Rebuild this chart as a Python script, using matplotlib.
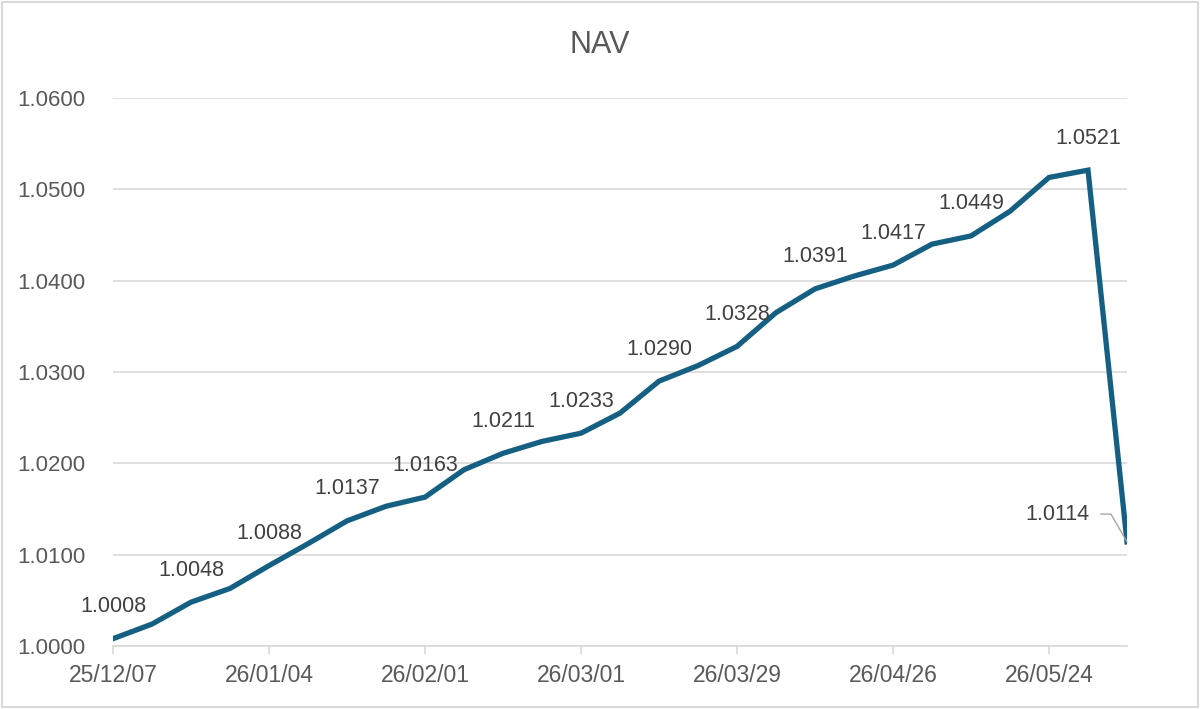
import numpy as np
import pandas as pd
import matplotlib
matplotlib.use("Agg")
import matplotlib.pyplot as plt
from matplotlib.patches import Rectangle

######################################################################
# Data (weekly NAV)

dates = pd.date_range("2025-12-07", periods=27, freq="7D")
nav = [1.0008, 1.0024, 1.0048, 1.0063, 1.0088, 1.0112, 1.0137, 1.0153,
       1.0163, 1.0193, 1.0211, 1.0224, 1.0233, 1.0255, 1.0290, 1.0307,
       1.0328, 1.0365, 1.0391, 1.0405, 1.0417, 1.0440, 1.0449, 1.0476,
       1.0513, 1.0521, 1.0114]
labelled = [0, 2, 4, 6, 8, 10, 12, 14, 16, 18, 20, 22, 25]
yticks = [1.0000, 1.0100, 1.0200, 1.0300, 1.0400, 1.0500, 1.0600]

xlabels = [d.strftime("%y/%m/%d") for d in dates]
x = np.arange(len(nav))

######################################################################
# Style

lineColor = "#156082"
gridColor = "#D9D9D9"
tickColor = "#595959"
labelColor = "#404040"
plt.rcParams["font.family"] = ["Liberation Sans", "DejaVu Sans"]

fig = plt.figure(figsize=(12, 7.09), dpi=100)
ax = fig.add_axes([113 / 1200, 1 - 646 / 709, (1127 - 113) / 1200, (646 - 98) / 709])

ax.plot(x, nav, color=lineColor, linewidth=3.8, solid_joinstyle="miter", zorder=3)

ax.set_xlim(0, len(nav) - 1)
ax.set_ylim(1.0, 1.06)
ax.set_yticks(yticks)
ax.set_yticklabels(["%.4f" % v for v in yticks])
ax.set_xticks(x[::4])
ax.set_xticklabels(xlabels[::4])

ax.grid(axis="y", color=gridColor, linewidth=1.2)
ax.set_axisbelow(True)
for side in ["top", "right", "left"]:
    ax.spines[side].set_visible(False)
ax.spines["bottom"].set_color(gridColor)
ax.spines["bottom"].set_linewidth(1.2)
ax.tick_params(axis="y", length=0, pad=20, labelsize=16, labelcolor=tickColor)
ax.tick_params(axis="x", length=6, width=1.2, color=gridColor, pad=7,
               labelsize=16.5, labelcolor=tickColor)

# data labels above every other point
for i in labelled:
    ax.annotate("%.4f" % nav[i], (x[i], nav[i]), xytext=(0, 23),
                textcoords="offset points", ha="center", va="center",
                fontsize=15.5, color=labelColor)

# last point label pulled left with a leader line
last = len(nav) - 1
ax.annotate("%.4f" % nav[last], (x[last], nav[last]), xytext=(-50, 20),
            textcoords="offset points", ha="center", va="center",
            fontsize=15.5, color=labelColor, annotation_clip=False,
            arrowprops=dict(arrowstyle="-", color="#A6A6A6", lw=1,
                            shrinkA=6, shrinkB=0,
                            connectionstyle="angle,angleA=0,angleB=120,rad=0",
                            relpos=(1.0, 0.5)))

fig.text(0.5, 1 - 45 / 709, "NAV", ha="center", va="center",
         fontsize=22, color=tickColor)

# light chart border
fig.patches.append(Rectangle((0.002, 0.003), 0.996, 0.994, transform=fig.transFigure,
                             fill=False, edgecolor=gridColor, linewidth=1.5))

plt.savefig("out.png", dpi=100)
plt.close("all")
